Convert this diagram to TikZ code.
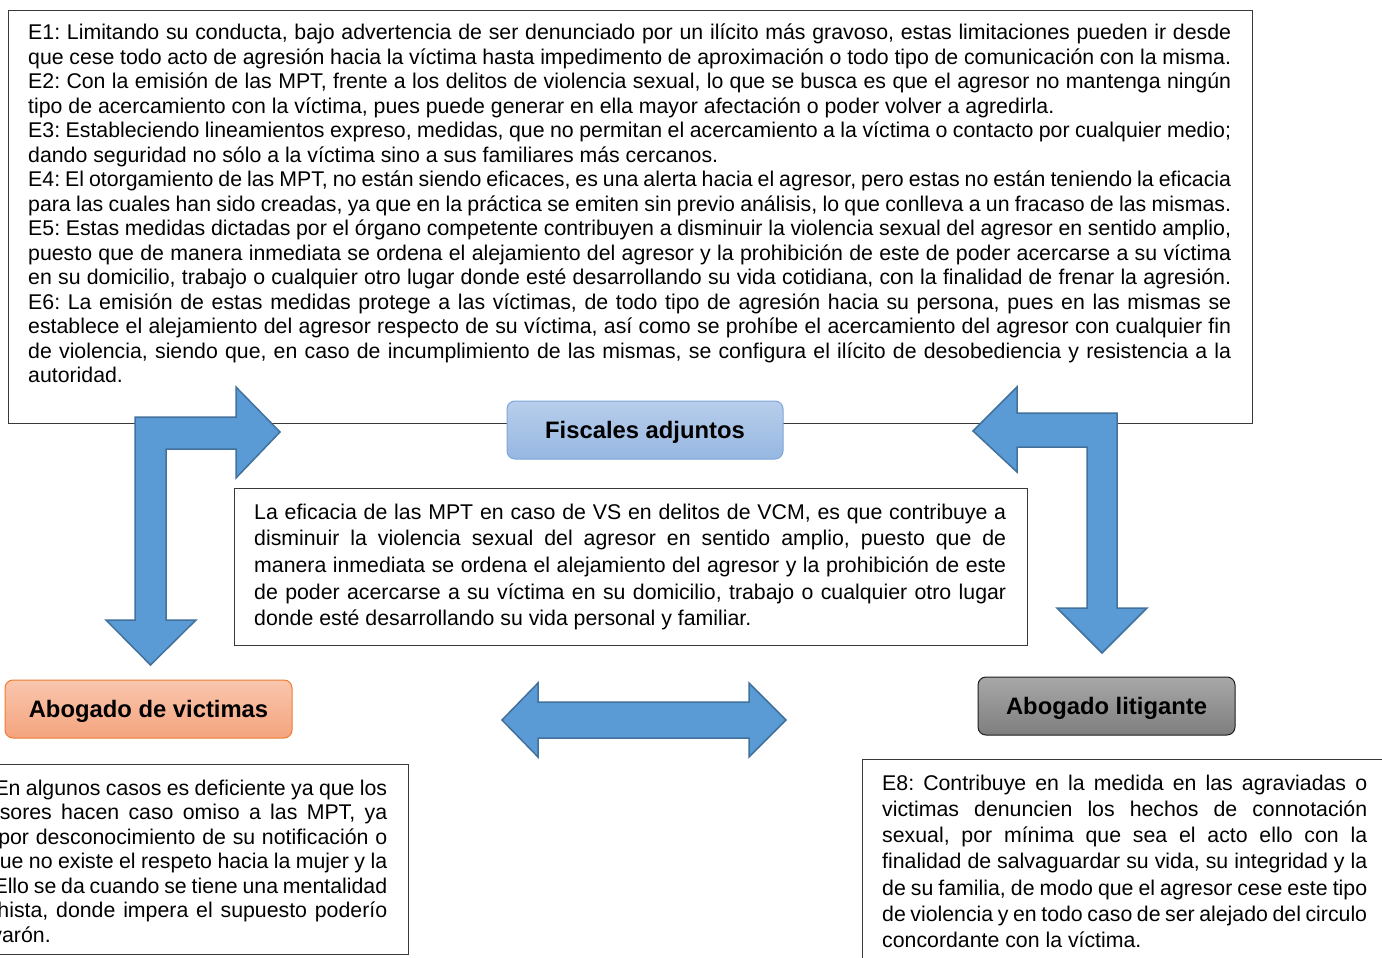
\documentclass[tikz,border=0pt]{standalone}
\usepackage{fontspec}
\setmainfont{Liberation Sans}
\definecolor{arrowfill}{HTML}{5B9BD5}
\definecolor{arrowline}{HTML}{41719C}
\definecolor{fisctop}{HTML}{B8CEEB}
\definecolor{fiscbot}{HTML}{96B7E2}
\definecolor{fiscline}{HTML}{7DA7D9}
\definecolor{ortop}{HTML}{F9C6AE}
\definecolor{orbot}{HTML}{F4A47E}
\definecolor{orline}{HTML}{ED7D31}
\definecolor{grtop}{HTML}{A8A8A8}
\definecolor{grbot}{HTML}{7E7E7E}
\definecolor{grline}{HTML}{1E1E1E}
\definecolor{frameline}{HTML}{3A3A3A}
\newcommand\jl[1]{\hbox to\hsize{#1}\par}
\begin{document}
\frenchspacing
\begin{tikzpicture}[x=1pt,y=-1pt,
  framebox/.style={draw=frameline, line width=1.1pt, fill=white, inner sep=0pt, anchor=north west},
  txt/.style={anchor=base west, inner sep=0pt, text width=#1,
    execute at begin node={\frenchspacing\spaceskip=5.9pt plus 60pt minus 2.6pt\relax
      \setlength\parindent{0pt}\setlength\parskip{0pt}}},
  lab/.style={rounded corners=8pt, line width=1pt, inner sep=0pt,
    text height=17pt, text depth=0pt,
    font=\fontsize{23.8}{26}\selectfont\bfseries},
  blockarrow/.style={fill=arrowfill, draw=arrowline, line width=1.5pt, line join=miter}
]
\useasboundingbox (0,0) rectangle (1382,958);
\clip (0,0) rectangle (1382,958);
\fill[white] (0,0) rectangle (1382,958);

% top box
\node[framebox, minimum width=1244pt, minimum height=413pt] (topbox) at (8,10) {};
\node[txt=1203pt, font=\fontsize{21.3}{24.5}\selectfont] (toptext) at (28,40) {%
\jl{E1: Limitando su conducta, bajo advertencia de ser denunciado por un ilícito más gravoso, estas limitaciones pueden ir desde}
\jl{que cese todo acto de agresión hacia la víctima hasta impedimento de aproximación o todo tipo de comunicación con la misma.}
\jl{E2: Con la emisión de las MPT, frente a los delitos de violencia sexual, lo que se busca es que el agresor no mantenga ningún}
tipo de acercamiento con la víctima, pues puede generar en ella mayor afectación o poder volver a agredirla.\par
\jl{E3: Estableciendo lineamientos expreso, medidas, que no permitan el acercamiento a la víctima o contacto por cualquier medio;}
dando seguridad no sólo a la víctima sino a sus familiares más cercanos.\par
\jl{E4: El otorgamiento de las MPT, no están siendo eficaces, es una alerta hacia el agresor, pero estas no están teniendo la eficacia}
\jl{para las cuales han sido creadas, ya que en la práctica se emiten sin previo análisis, lo que conlleva a un fracaso de las mismas.}
\jl{E5: Estas medidas dictadas por el órgano competente contribuyen a disminuir la violencia sexual del agresor en sentido amplio,}
\jl{puesto que de manera inmediata se ordena el alejamiento del agresor y la prohibición de este de poder acercarse a su víctima}
\jl{en su domicilio, trabajo o cualquier otro lugar donde esté desarrollando su vida cotidiana, con la finalidad de frenar la agresión.}
\jl{E6: La emisión de estas medidas protege a las víctimas, de todo tipo de agresión hacia su persona, pues en las mismas se}
\jl{establece el alejamiento del agresor respecto de su víctima, así como se prohíbe el acercamiento del agresor con cualquier fin}
\jl{de violencia, siendo que, en caso de incumplimiento de las mismas, se configura el ilícito de desobediencia y resistencia a la}
autoridad.\par};

% center box
\node[framebox, minimum width=793pt, minimum height=157pt] (midbox) at (234,488) {};
\node[txt=752pt, font=\fontsize{21.3}{26.7}\selectfont] (midtext) at (254,519) {%
\jl{La eficacia de las MPT en caso de VS en delitos de VCM, es que contribuye a}
\jl{disminuir la violencia sexual del agresor en sentido amplio, puesto que de}
\jl{manera inmediata se ordena el alejamiento del agresor y la prohibición de este}
\jl{de poder acercarse a su víctima en su domicilio, trabajo o cualquier otro lugar}
donde esté desarrollando su vida personal y familiar.\par};

% bottom left box (E7)
\node[framebox, minimum width=471pt, minimum height=190pt] (e7box) at (-63,764) {};
\node[txt=430pt, font=\fontsize{21.3}{24.5}\selectfont] (e7text) at (-43,795) {%
\jl{E7: En algunos casos es deficiente ya que los}
\jl{agresores hacen caso omiso a las MPT, ya}
\jl{sea por desconocimiento de su notificación o}
\jl{porque no existe el respeto hacia la mujer y la}
\jl{ley. Ello se da cuando se tiene una mentalidad}
\jl{machista, donde impera el supuesto poderío}
del varón.\par};

% bottom right box (E8)
\node[framebox, minimum width=560pt, minimum height=230pt] (e8box) at (862,759) {};
\node[txt=485pt, font=\fontsize{21.3}{26.3}\selectfont] (e8text) at (882,790) {%
\jl{E8: Contribuye en la medida en las agraviadas o}
\jl{victimas denuncien los hechos de connotación}
\jl{sexual, por mínima que sea el acto ello con la}
\jl{finalidad de salvaguardar su vida, su integridad y la}
\jl{de su familia, de modo que el agresor cese este tipo}
\jl{de violencia y en todo caso de ser alejado del circulo}
concordante con la víctima.\par};

% block arrows
\path[blockarrow] (135,417) -- (236,417) -- (236,387) -- (280,432) -- (236,478) -- (236,449)
  -- (166,449) -- (166,620) -- (196,620) -- (150.5,665) -- (106,620) -- (135,620) -- cycle;
\path[blockarrow] (1117,413) -- (1017,413) -- (1017,387) -- (973,431) -- (1017,472) -- (1017,447)
  -- (1087,447) -- (1087,608) -- (1057,608) -- (1102,653) -- (1147,608) -- (1117,608) -- cycle;
\path[blockarrow] (502,720) -- (538,683) -- (538,702) -- (749,702) -- (749,683) -- (786,720)
  -- (749,757) -- (749,738) -- (538,738) -- (538,757) -- cycle;

% labels
\node[lab, draw=fiscline, top color=fisctop, bottom color=fiscbot,
  minimum width=276pt, minimum height=58pt] (fisc) at (645,430) {Fiscales adjuntos};
\node[lab, draw=orline, top color=ortop, bottom color=orbot,
  minimum width=287pt, minimum height=58pt] (victimas) at (148.5,709) {Abogado de victimas};
\node[lab, draw=grline, top color=grtop, bottom color=grbot,
  minimum width=257pt, minimum height=58pt] (litigante) at (1106.5,706) {Abogado litigante};
\end{tikzpicture}
\end{document}
